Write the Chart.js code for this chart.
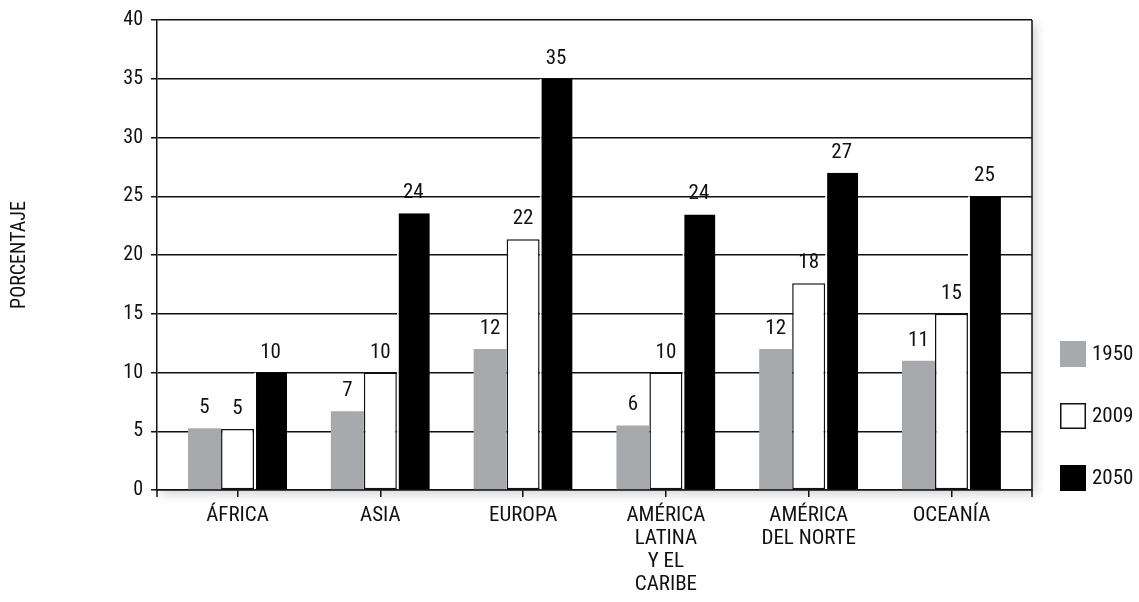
<!DOCTYPE html>
<html>
<head>
<meta charset="utf-8">
<script src="https://cdn.jsdelivr.net/npm/chart.js@4.4.1/dist/chart.umd.min.js"></script>
<style>
  html, body { margin: 0; padding: 0; background: #fff; }
  canvas { display: block; }
</style>
</head>
<body>
<canvas id="c" width="1139" height="602"></canvas>
<script>
// ---- data ----
const categories = [
  ['ÁFRICA'],
  ['ASIA'],
  ['EUROPA'],
  ['AMÉRICA', 'LATINA', 'Y EL', 'CARIBE'],
  ['AMÉRICA', 'DEL NORTE'],
  ['OCEANÍA']
];
const seriesNames = ['1950', '2009', '2050'];
const values1950 = [5.25, 6.7, 12.0, 5.5, 12.0, 11.0];
const values2009 = [5.2, 10.0, 21.35, 10.0, 17.6, 15.0];
const values2050 = [10.0, 23.55, 35.0, 23.45, 27.0, 25.0];
const labels1950 = ['5', '7', '12', '6', '12', '11'];
const labels2009 = ['5', '10', '22', '10', '18', '15'];
const labels2050 = ['10', '24', '35', '24', '27', '25'];
const yAxisTitle = 'PORCENTAJE';
const yMin = 0, yMax = 40, yStep = 5;

// ---- styles ----
const FONT = "'Liberation Sans Narrow', 'Roboto Condensed', 'DejaVu Sans Condensed', 'Liberation Sans', sans-serif";
const INK = '#111111';
const GRAY = '#a8a9ac';
const valueLabels = [labels1950, labels2009, labels2050];

const shadowPlugin = {
  id: 'plotShadow',
  beforeDraw(chart) {
    const { ctx, chartArea: a } = chart;
    ctx.save();
    ctx.shadowColor = 'rgba(0,0,0,0.18)';
    ctx.shadowBlur = 10;
    ctx.shadowOffsetX = 4;
    ctx.shadowOffsetY = 4;
    ctx.fillStyle = '#fff';
    ctx.fillRect(a.left, a.top, a.right - a.left, a.bottom - a.top);
    ctx.restore();
  }
};

const framePlugin = {
  id: 'frame',
  afterDraw(chart) {
    const { ctx, chartArea: a } = chart;
    ctx.save();
    ctx.strokeStyle = INK;
    ctx.lineWidth = 1.5;
    ctx.beginPath();
    ctx.moveTo(a.right, a.top);
    ctx.lineTo(a.right, a.bottom + 7);
    ctx.moveTo(a.left, a.bottom);
    ctx.lineTo(a.left, a.bottom + 7);
    ctx.stroke();
    ctx.restore();
  }
};

const valuePlugin = {
  id: 'values',
  afterDatasetsDraw(chart) {
    const { ctx } = chart;
    ctx.save();
    ctx.fillStyle = INK;
    ctx.font = '21px ' + FONT;
    ctx.textAlign = 'center';
    ctx.textBaseline = 'alphabetic';
    chart.data.datasets.forEach((ds, i) => {
      const meta = chart.getDatasetMeta(i);
      meta.data.forEach((el, j) => {
        ctx.fillText(valueLabels[i][j], el.x, el.y - 15);
      });
    });
    ctx.restore();
  }
};

const legendPlugin = {
  id: 'sideLegend',
  afterDraw(chart) {
    const { ctx, chartArea: a } = chart;
    const n = chart.data.datasets.length;
    ctx.save();
    ctx.font = '21px ' + FONT;
    ctx.textBaseline = 'middle';
    ctx.textAlign = 'left';
    chart.data.datasets.forEach((ds, i) => {
      const cy = a.bottom - 12 - (n - 1 - i) * 62;
      const bx = a.right + 28, bw = 26, bh = 26;
      ctx.fillStyle = ds.backgroundColor;
      ctx.fillRect(bx, cy - bh / 2, bw, bh);
      if (ds.backgroundColor === '#ffffff') {
        ctx.strokeStyle = INK;
        ctx.lineWidth = 1.5;
        ctx.strokeRect(bx + 0.75, cy - bh / 2 + 0.75, bw - 1.5, bh - 1.5);
      }
      ctx.fillStyle = INK;
      ctx.fillText(ds.label, bx + bw + 6, cy + 1);
    });
    ctx.restore();
  }
};

new Chart(document.getElementById('c'), {
  type: 'bar',
  data: {
    labels: categories,
    datasets: [
      { label: seriesNames[0], data: values1950, backgroundColor: GRAY, borderWidth: 0 },
      { label: seriesNames[1], data: values2009, backgroundColor: '#ffffff', borderColor: INK, borderWidth: 1.5, borderSkipped: false },
      { label: seriesNames[2], data: values2050, backgroundColor: '#000000', borderColor: '#ffffff',
        borderWidth: { left: 2, top: 0, right: 0, bottom: 0 } }
    ]
  },
  options: {
    responsive: false,
    animation: false,
    devicePixelRatio: 1,
    layout: { padding: { top: 18, right: 107, bottom: 0, left: 0 } },
    datasets: { bar: { categoryPercentage: 0.693, barPercentage: 1.0 } },
    plugins: { legend: { display: false }, tooltip: { enabled: false } },
    scales: {
      x: {
        grid: { display: true, drawOnChartArea: false, drawTicks: true, tickLength: 7, offset: false, color: INK, lineWidth: 1.5 },
        border: { color: INK, width: 1.5 },
        ticks: { color: INK, font: { family: FONT, size: 21, lineHeight: 1.1 }, padding: 7, maxRotation: 0, autoSkip: false },
        afterBuildTicks(s) { s._startValue -= 0.064; s._valueRange += 0.128; },
        afterFit(s) { s.height = 112; }
      },
      y: {
        min: yMin, max: yMax,
        ticks: { stepSize: yStep, color: INK, font: { family: FONT, size: 20 }, padding: 8 },
        grid: { color: INK, lineWidth: 1.5, tickLength: 6, drawTicks: true },
        border: { color: INK, width: 1.5 },
        title: { display: true, text: yAxisTitle, color: INK, font: { family: FONT, size: 20 }, padding: { top: 7.5, bottom: 0 } },
        afterFit(s) { s.width = 157; }
      }
    }
  },
  plugins: [shadowPlugin, valuePlugin, framePlugin, legendPlugin]
});
</script>
</body>
</html>
